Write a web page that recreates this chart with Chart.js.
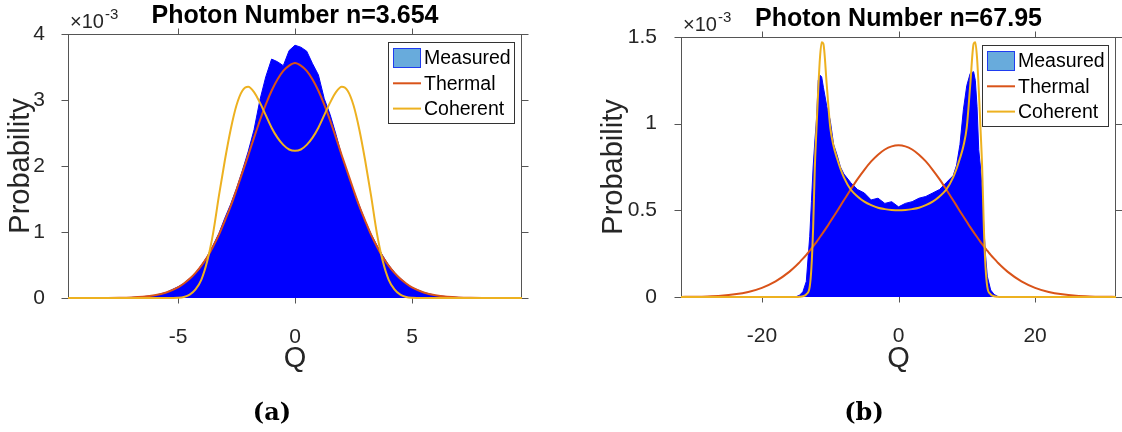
<!DOCTYPE html>
<html lang="en">
<head>
    <meta charset="UTF-8" />
    <title>Photon Number Distributions</title>
    <script src="https://cdn.jsdelivr.net/npm/chart.js"></script>
    <style>
        body { margin: 0; background: #fff; width: 1122px; height: 432px; position: relative; overflow: hidden; }
        canvas { position: absolute; top: 0; }
        #chartA { left: 0; }
        #chartB { left: 561px; }
        .sub { position: absolute; top: 398px; line-height: 28px; font-family: "DejaVu Serif", serif; font-weight: bold; font-size: 24px; color: #000; transform: translateX(-50%); }
    </style>
</head>
<body>
    <canvas id="chartA" width="561" height="432"></canvas>
    <canvas id="chartB" width="561" height="432"></canvas>
    <div class="sub" style="left:272px">(a)</div>
    <div class="sub" style="left:864px">(b)</div>

    <script>
        // values are in units of 10^-3 (as on the y axes)
        // panel (a): n = 3.654
        const qA = [-9.7, -9, -8, -7.5, -7, -6.5, -6, -5.5,
            -5, -4.75, -4.5, -4.25, -4, -3.75, -3.5, -3.25, -3, -2.75, -2.5, -2.25, -2, -1.75, -1.5, -1.25, -1, -0.75, -0.5, -0.25,
            0, 0.25, 0.5, 0.75, 1, 1.25, 1.5, 1.75, 2, 2.25, 2.5, 2.75, 3, 3.25, 3.5, 3.75, 4, 4.25, 4.5, 4.75, 5,
            5.5, 6, 6.5, 7, 7.5, 8, 9, 9.7];
        const measuredA = [0, 0, 0.002, 0.004, 0.008, 0.02, 0.04, 0.085,
            0.17, 0.22, 0.30, 0.38, 0.50, 0.63, 0.80, 0.98, 1.21, 1.42, 1.66, 1.93, 2.22, 2.55, 3.00, 3.35, 3.62, 3.58, 3.52, 3.75,
            3.83, 3.80, 3.74, 3.55, 3.38, 3.02, 2.78, 2.48, 2.15, 1.89, 1.63, 1.40, 1.17, 0.97, 0.80, 0.64, 0.50, 0.39, 0.30, 0.22, 0.16,
            0.085, 0.04, 0.02, 0.008, 0.004, 0.002, 0, 0];
        const thermalA = [0, 0.0001, 0.001, 0.003, 0.008, 0.019, 0.041, 0.084,
            0.16, 0.22, 0.29, 0.38, 0.49, 0.62, 0.78, 0.96, 1.17, 1.39, 1.64, 1.90, 2.16, 2.43, 2.69, 2.93, 3.14, 3.31, 3.44, 3.52,
            3.56, 3.52, 3.44, 3.31, 3.14, 2.93, 2.69, 2.43, 2.16, 1.90, 1.64, 1.39, 1.17, 0.96, 0.78, 0.62, 0.49, 0.38, 0.29, 0.22, 0.16,
            0.084, 0.041, 0.019, 0.008, 0.003, 0.001, 0.0001, 0];
        const coherentA = [0, 0, 0, 0, 0, 0, 0, 0,
            0.004, 0.015, 0.05, 0.13, 0.28, 0.56, 0.98, 1.55, 2.08, 2.55, 2.92, 3.14, 3.20, 3.12, 2.96, 2.77, 2.58, 2.43, 2.32, 2.25,
            2.23, 2.25, 2.32, 2.43, 2.58, 2.77, 2.96, 3.12, 3.20, 3.14, 2.92, 2.55, 2.08, 1.55, 0.98, 0.56, 0.28, 0.13, 0.05, 0.015, 0.004,
            0, 0, 0, 0, 0, 0, 0, 0];
        const xTicksA = [-5, 0, 5];
        const yTicksA = [0, 1, 2, 3, 4];

        // panel (b): n = 67.95
        const qB = [-31.85, -30, -28, -26, -24, -22, -20, -18, -16,
            -15, -14.5, -14, -13.5, -13, -12.75, -12.5, -12.25, -12, -11.75, -11.5, -11.25, -11,
            -10.5, -10, -9.5, -9, -8.5, -8, -7, -6, -5, -4, -3, -2, -1, 0, 1, 2, 3, 4, 5, 6, 7,
            8, 8.5, 9, 9.5, 10, 10.5, 11, 11.25, 11.5, 11.75, 12, 12.25, 12.5, 12.75,
            13, 13.5, 14, 14.5, 15, 16, 18, 20, 22, 24, 26, 28, 30, 31.85];
        const measuredB = [0, 0, 0, 0, 0, 0, 0, 0, 0,
            0.002, 0.01, 0.03, 0.09, 0.35, 0.55, 0.75, 0.90, 1.03, 1.25, 1.28, 1.27, 1.21,
            1.10, 1.02, 0.88, 0.82, 0.75, 0.71, 0.66, 0.62, 0.60, 0.56, 0.57, 0.54, 0.55, 0.52, 0.54, 0.55, 0.57, 0.58, 0.60, 0.62, 0.66,
            0.70, 0.76, 0.88, 1.08, 1.22, 1.29, 1.30, 1.25, 1.10, 0.85, 0.75, 0.62, 0.40, 0.24,
            0.12, 0.04, 0.015, 0.004, 0, 0, 0, 0, 0, 0, 0, 0, 0, 0];
        const thermalB = [0.0006, 0.0016, 0.0036, 0.0076, 0.0153, 0.029, 0.053, 0.090, 0.145,
            0.180, 0.200, 0.221, 0.243, 0.267, 0.279, 0.292, 0.305, 0.318, 0.332, 0.346, 0.360, 0.374,
            0.403, 0.434, 0.464, 0.495, 0.527, 0.558, 0.620, 0.680, 0.734, 0.782, 0.821, 0.851, 0.869, 0.875, 0.869, 0.851, 0.821, 0.782, 0.734, 0.680, 0.620,
            0.558, 0.527, 0.495, 0.464, 0.434, 0.403, 0.374, 0.360, 0.346, 0.332, 0.318, 0.305, 0.292, 0.279,
            0.267, 0.243, 0.221, 0.200, 0.180, 0.145, 0.090, 0.053, 0.029, 0.0153, 0.0076, 0.0036, 0.0016, 0.0006];
        const coherentB = [0, 0, 0, 0, 0, 0, 0, 0, 0,
            0, 0.001, 0.004, 0.015, 0.06, 0.17, 0.40, 0.75, 0.98, 1.20, 1.38, 1.47, 1.46,
            1.22, 0.98, 0.87, 0.80, 0.74, 0.69, 0.62, 0.58, 0.55, 0.53, 0.515, 0.507, 0.502, 0.50, 0.502, 0.507, 0.515, 0.53, 0.55, 0.58, 0.62,
            0.69, 0.74, 0.80, 0.87, 0.98, 1.22, 1.46, 1.47, 1.38, 1.20, 0.98, 0.75, 0.40, 0.17,
            0.06, 0.015, 0.004, 0.001, 0, 0, 0, 0, 0, 0, 0, 0, 0, 0];
        const xTicksB = [-20, 0, 20];
        const yTicksB = [0, 0.5, 1, 1.5];

        const FONT = '"Liberation Sans", Arial, sans-serif';
        const toPts = (xs, ys) => xs.map((x, i) => ({ x: x, y: ys[i] }));

        function frameAxes(chart, xTicks, yTicks) {
            const { ctx, chartArea: a, scales } = chart;
            const L = Math.round(a.left) + 0.5, R = Math.round(a.right) - 0.5;
            const T = Math.round(a.top) + 0.5, B = Math.round(a.bottom) - 0.5;
            ctx.save();
            ctx.strokeStyle = "#555";
            ctx.lineWidth = 1;
            ctx.strokeRect(L, T, R - L, B - T);
            ctx.beginPath();
            xTicks.forEach((v) => {
                const x = Math.round(scales.x.getPixelForValue(v)) + 0.5;
                ctx.moveTo(x, T); ctx.lineTo(x, T - 6);
                ctx.moveTo(x, B); ctx.lineTo(x, B + 6);
            });
            yTicks.forEach((v) => {
                const y = Math.round(scales.y.getPixelForValue(v)) + 0.5;
                ctx.moveTo(L, y); ctx.lineTo(L - 7, y);
                ctx.moveTo(R, y); ctx.lineTo(R + 7, y);
            });
            ctx.stroke();
            ctx.restore();
        }

        function drawHeader(chart, title) {
            const { ctx, chartArea: a } = chart;
            ctx.save();
            ctx.fillStyle = "#000";
            ctx.textBaseline = "alphabetic";
            ctx.textAlign = "center";
            ctx.font = "bold 25px " + FONT;
            ctx.fillText(title, (a.left + a.right) / 2, a.top - 11);
            ctx.fillStyle = "#262626";
            ctx.textAlign = "left";
            ctx.font = "20px " + FONT;
            ctx.fillText("\u00d710", a.left + 2, a.top - 6);
            const w = ctx.measureText("\u00d710").width;
            ctx.font = "15px " + FONT;
            ctx.fillText("-3", a.left + 3 + w, a.top - 15);
            ctx.restore();
        }

        function drawLegend(chart) {
            const { ctx, chartArea: a } = chart;
            const w = 126, h = 81;
            const x0 = Math.round(a.right - 8 - w), y0 = Math.round(a.top + 8);
            ctx.save();
            ctx.fillStyle = "#fff";
            ctx.fillRect(x0, y0, w, h);
            ctx.strokeStyle = "#333";
            ctx.lineWidth = 1;
            ctx.strokeRect(x0 + 0.5, y0 + 0.5, w, h);
            chart.data.datasets.forEach((ds, i) => {
                const cy = y0 + 16 + i * 25.3;
                if (ds.fill) {
                    ctx.fillStyle = "#68abdc";
                    ctx.fillRect(x0 + 5, cy - 10, 28, 20);
                    ctx.strokeStyle = "#1f3cf0";
                    ctx.strokeRect(x0 + 5.5, cy - 9.5, 27, 19);
                } else {
                    ctx.strokeStyle = ds.borderColor;
                    ctx.lineWidth = 2;
                    ctx.beginPath();
                    ctx.moveTo(x0 + 5, cy);
                    ctx.lineTo(x0 + 33, cy);
                    ctx.stroke();
                }
                ctx.fillStyle = "#000";
                ctx.font = "19.5px " + FONT;
                ctx.textBaseline = "middle";
                ctx.textAlign = "left";
                ctx.fillText(ds.label, x0 + 36, cy + 1);
            });
            ctx.restore();
        }

        function makeChart(id, opt) {
            const ctx = document.getElementById(id).getContext("2d");
            const lineClip = { left: 0, top: 0, right: 0, bottom: 3 };
            return new Chart(ctx, {
                type: "line",
                data: {
                    datasets: [
                        {
                            label: "Measured",
                            data: toPts(opt.q, opt.measured),
                            borderColor: "#0000ff",
                            backgroundColor: "#0000ff",
                            borderWidth: 1,
                            fill: "origin",
                            pointRadius: 0,
                            tension: 0,
                            order: 3,
                        },
                        {
                            label: "Thermal",
                            data: toPts(opt.q, opt.thermal),
                            borderColor: "#d95319",
                            borderWidth: 2,
                            fill: false,
                            pointRadius: 0,
                            cubicInterpolationMode: "monotone",
                            clip: lineClip,
                            order: 2,
                        },
                        {
                            label: "Coherent",
                            data: toPts(opt.q, opt.coherent),
                            borderColor: "#edb120",
                            borderWidth: 2,
                            fill: false,
                            pointRadius: 0,
                            cubicInterpolationMode: "monotone",
                            clip: lineClip,
                            order: 1,
                        },
                    ],
                },
                options: {
                    responsive: false,
                    animation: false,
                    devicePixelRatio: 1,
                    layout: { padding: { top: opt.top, right: opt.right, left: 0, bottom: 0 } },
                    plugins: { legend: { display: false }, title: { display: false }, tooltip: { enabled: false } },
                    scales: {
                        x: {
                            type: "linear",
                            min: opt.xMin,
                            max: opt.xMax,
                            grid: { display: false },
                            border: { display: false },
                            afterBuildTicks: (s) => { s.ticks = opt.xTicks.map((v) => ({ value: v })); },
                            afterFit: (s) => { s.height = 432 - opt.bottom; },
                            ticks: { padding: 19, color: "#262626", font: { family: FONT, size: 21 }, callback: (v) => String(v) },
                            title: { display: true, text: "Q", color: "#262626", font: { family: FONT, size: 29 }, padding: { bottom: opt.qPad } },
                        },
                        y: {
                            min: 0,
                            max: opt.yMax,
                            grid: { display: false },
                            border: { display: false },
                            afterBuildTicks: (s) => { s.ticks = opt.yTicks.map((v) => ({ value: v })); },
                            afterFit: (s) => { s.width = opt.left; },
                            ticks: { padding: opt.yPad, color: "#262626", font: { family: FONT, size: 21 }, callback: (v) => String(v) },
                            title: { display: true, text: "Probability", color: "#262626", font: { family: FONT, size: 29 }, padding: { top: opt.pPad } },
                        },
                    },
                },
                plugins: [{
                    id: "matlabFrame",
                    beforeDatasetsDraw: (chart) => frameAxes(chart, opt.xTicks, opt.yTicks),
                    afterDraw: (chart) => { drawHeader(chart, opt.title); drawLegend(chart); },
                }],
            });
        }

        makeChart("chartA", {
            q: qA, measured: measuredA, thermal: thermalA, coherent: coherentA,
            xMin: -9.7, xMax: 9.7, yMax: 4, xTicks: xTicksA, yTicks: yTicksA,
            title: "Photon Number n=3.654",
            top: 34, right: 39, left: 68, bottom: 298, yPad: 15, pPad: 4, qPad: 56,
        });

        makeChart("chartB", {
            q: qB, measured: measuredB, thermal: thermalB, coherent: coherentB,
            xMin: -31.85, xMax: 31.85, yMax: 1.5, xTicks: xTicksB, yTicks: yTicksB,
            title: "Photon Number n=67.95",
            top: 37, right: 6, left: 120, bottom: 297, yPad: 16, pPad: 36, qPad: 56,
        });
    </script>
</body>
</html>
